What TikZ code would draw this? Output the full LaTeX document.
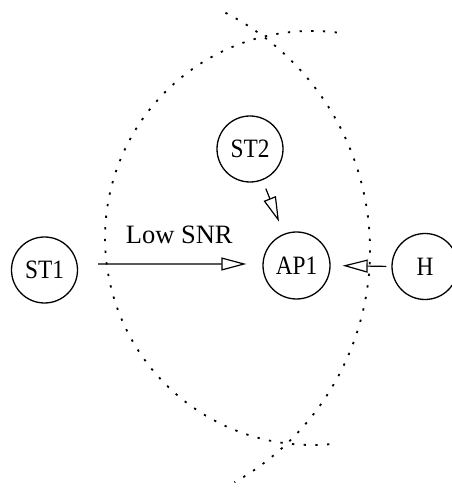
\documentclass[tikz,border=0pt]{standalone}
\usepackage{graphicx}
\usepackage{fontspec}
\setmainfont{Liberation Serif}
\usetikzlibrary{arrows.meta}
\tikzset{
  stn/.style={circle, draw, line width=1.3bp, minimum size=66bp, inner sep=0pt,
    font=\fontsize{26.5bp}{30bp}\selectfont},
  arr/.style={line width=1.2bp, -{Triangle[open, length=25bp, width=13bp, line width=1.2bp]}},
  dotarc/.style={line width=1.8bp, dash pattern=on 2.3bp off 9.4bp},
  lbl/.style={font=\fontsize{26.5bp}{30bp}\selectfont, inner sep=0pt, anchor=base west}
}
\newcommand{\nlab}[1]{\scalebox{0.88}[1]{#1}}
\begin{document}
\begin{tikzpicture}[x=1bp, y=1bp]
\useasboundingbox (0,0) rectangle (452,491);
% dotted range arcs
\draw[dotarc] (103,241) ++(62.7:267) arc[start angle=62.7, end angle=-60.5, radius=267];
\draw[dotarc] (312,253) ++(83.1:207) arc[start angle=83.1, end angle=275.5, radius=207];
% nodes
\node[stn] (ST1) at (44.5,221) {\nlab{ST1}};
\node[stn] (ST2) at (250,342) {\nlab{ST2}};
\node[stn, minimum size=67bp] (AP1) at (296.5,225.5) {\nlab{AP1}};
\node[stn] (H) at (425,224.5) {\nlab{H}};
\node[lbl] (snr) at (125.7,247.7) {Low SNR};
% connectors
\draw[arr, shorten <=20bp, shorten >=16bp] ([yshift=6bp]ST1.east) -- ([yshift=1.5bp]AP1.west);
\draw[arr, shorten <=5bp, shorten >=12bp] (H.west) -- (AP1.east);
\draw[arr, shorten <=9bp, shorten >=13bp] (ST2) -- (AP1);
\end{tikzpicture}
\end{document}
